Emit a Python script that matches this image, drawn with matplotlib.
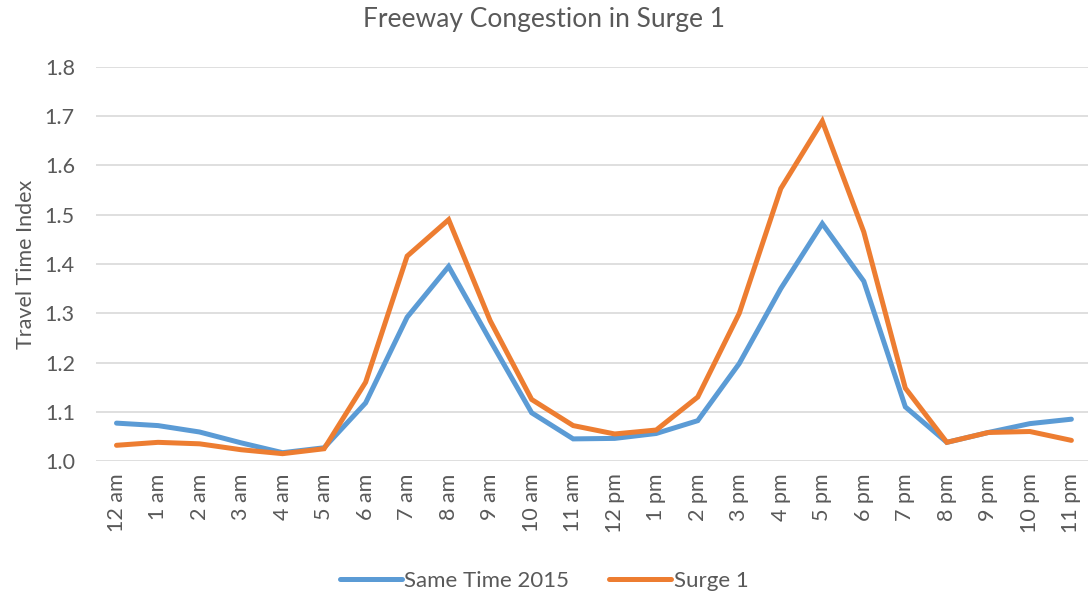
import matplotlib.pyplot as plt

hours = ['12 am', '1 am', '2 am', '3 am', '4 am', '5 am', '6 am', '7 am', '8 am', '9 am',
         '10 am', '11 am', '12 pm', '1 pm', '2 pm', '3 pm', '4 pm', '5 pm', '6 pm', '7 pm',
         '8 pm', '9 pm', '10 pm', '11 pm']
same_time_2015 = [1.077, 1.072, 1.059, 1.037, 1.017, 1.027, 1.118, 1.292, 1.395, 1.245,
                  1.098, 1.045, 1.046, 1.056, 1.082, 1.198, 1.350, 1.482, 1.365, 1.110,
                  1.038, 1.058, 1.076, 1.085]
surge_1 = [1.032, 1.038, 1.035, 1.023, 1.015, 1.025, 1.160, 1.416, 1.490, 1.285,
           1.125, 1.072, 1.055, 1.063, 1.130, 1.300, 1.553, 1.690, 1.465, 1.148,
           1.038, 1.058, 1.060, 1.042]

plt.rcParams['font.family'] = ['Lato', 'DejaVu Sans']
grey = '#595959'

fig = plt.figure(figsize=(10.88, 5.98), dpi=100)
ax = fig.add_axes([0.088, 0.229, 0.912, 0.659])

x = range(len(hours))
ax.plot(x, same_time_2015, color='#5B9BD5', linewidth=3.6, label='Same Time 2015',
        solid_capstyle='round', solid_joinstyle='miter')
ax.plot(x, surge_1, color='#ED7D31', linewidth=3.6, label='Surge 1',
        solid_capstyle='round', solid_joinstyle='miter')

ax.set_xlim(-0.5, 23.4)
ax.set_ylim(1.0, 1.8)
ax.set_yticks([1.0, 1.1, 1.2, 1.3, 1.4, 1.5, 1.6, 1.7, 1.8])
ax.set_yticklabels(['1.0', '1.1', '1.2', '1.3', '1.4', '1.5', '1.6', '1.7', '1.8'])
ax.set_xticks(list(x))
ax.set_xticklabels(hours, rotation=90)
ax.tick_params(axis='both', length=0, labelsize=15.5, colors=grey)
ax.tick_params(axis='x', pad=9)
ax.tick_params(axis='y', pad=15)
ax.grid(axis='y', color='#d9d9d9', linewidth=1.2)
ax.set_axisbelow(True)
for s in ax.spines.values():
    s.set_visible(False)

ax.set_ylabel('Travel Time Index', fontsize=15.5, color=grey, labelpad=6)
fig.suptitle('Freeway Congestion in Surge 1', fontsize=19, color=grey, y=0.988)

fig.legend(loc='lower center', bbox_to_anchor=(0.5, -0.022), ncol=2, frameon=False,
           fontsize=16, labelcolor=grey, handlelength=2.8, handletextpad=0.1,
           columnspacing=1.8)

fig.savefig('out.png', dpi=100)
